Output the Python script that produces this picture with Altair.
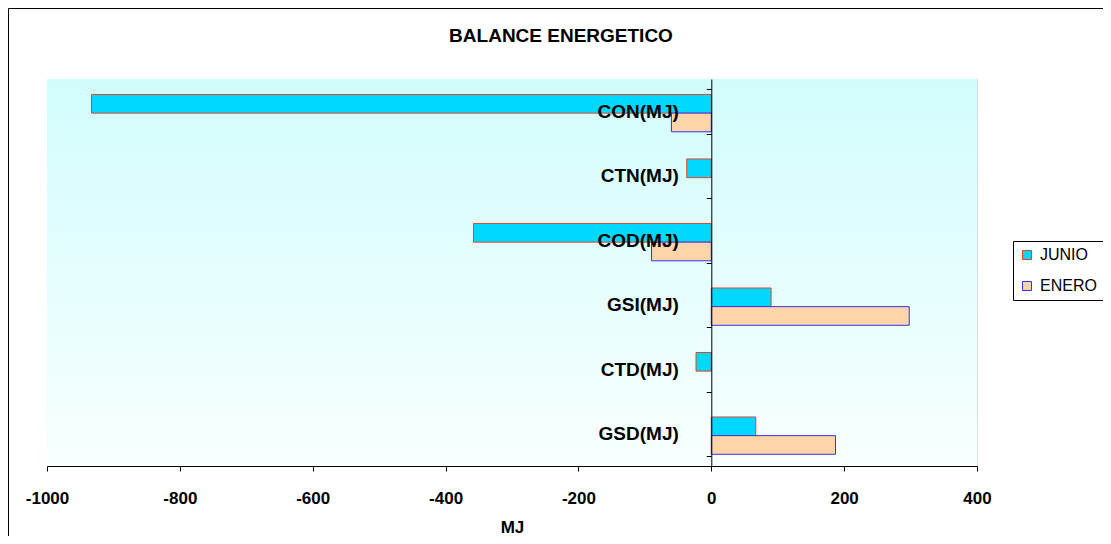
import altair as alt
import pandas as pd

categories = ["CON(MJ)", "CTN(MJ)", "COD(MJ)", "GSI(MJ)", "CTD(MJ)", "GSD(MJ)"]
series = ["JUNIO", "ENERO"]
junio = [-933, -37, -358, 90, -23, 67]
enero = [-60, 0, -90, 298, 0, 187]
x_ticks = [-1000, -800, -600, -400, -200, 0, 200, 400]
title_text = "BALANCE ENERGETICO"

rows = []
for c, j, e in zip(categories, junio, enero):
    rows.append({"cat": c, "serie": "JUNIO", "val": j})
    rows.append({"cat": c, "serie": "ENERO", "val": e})
df = pd.DataFrame(rows)

W, H = 930, 387
FONT = "Liberation Sans"

xscale = alt.Scale(domain=[-1000, 400], nice=False, zero=False)

grad = alt.LinearGradient(
    gradient="linear", x1=0, x2=0, y1=0, y2=1,
    stops=[alt.GradientStop(color="#D2FCFC", offset=0),
           alt.GradientStop(color="#F8FFFF", offset=1)],
)

bg = alt.Chart(pd.DataFrame({"a": [0]})).mark_rect(fill=grad).encode(
    x=alt.datum(-1000, scale=xscale),
    x2=alt.datum(400),
    y=alt.value(0),
    y2=alt.value(H),
)

frame = alt.Chart(pd.DataFrame({"a": [0]})).mark_rect(
    fill=None, stroke="black", strokeWidth=1
).encode(
    x=alt.value(-38.5), x2=alt.value(1200), y=alt.value(-70.5), y2=alt.value(1000)
)

title = alt.Chart(pd.DataFrame({"t": [title_text]})).mark_text(
    font=FONT, fontSize=19, fontWeight="bold", color="black",
    align="center", baseline="alphabetic"
).encode(text="t:N", x=alt.value(514), y=alt.value(-37.5))

legend_kw = dict(title=None, orient="none", legendX=966, legendY=162,
                 symbolType="square", symbolSize=81, symbolStrokeWidth=1,
                 labelFont=FONT, labelFontSize=16, labelColor="black",
                 labelOffset=5, padding=6, rowPadding=15,
                 strokeColor="black", fillColor="white")

bars = alt.Chart(df).transform_filter("datum.val != 0").mark_bar(strokeWidth=1).encode(
    x=alt.X("val:Q", scale=xscale,
            axis=alt.Axis(values=x_ticks, title="MJ", grid=False,
                          labelExpr="datum.value + ''",
                          domainColor="black", tickColor="black", tickSize=5,
                          labelFontSize=17, labelFontWeight="bold", labelColor="black",
                          labelFont=FONT, labelPadding=19, labelFlush=False,
                          titleFont=FONT, titleFontSize=17, titleFontWeight="bold",
                          titleColor="black", titlePadding=13)),
    y=alt.Y("cat:N", sort=categories,
            scale=alt.Scale(paddingInner=0.3, paddingOuter=0.15),
            axis=alt.Axis(title=None, offset=-664.3, domainColor="black",
                          tickColor="black", tickSize=5, tickBand="extent",
                          labelFontSize=19, labelFontWeight="bold", labelColor="black",
                          labelFont=FONT, labelPadding=28, zindex=1, grid=False)),
    yOffset=alt.YOffset("serie:N", sort=series,
                        scale=alt.Scale(paddingInner=0, paddingOuter=0.21, align=0.74)),
    fill=alt.Fill("serie:N", sort=series,
                  scale=alt.Scale(domain=series, range=["#00D8FF", "#FFD4A8"]),
                  legend=alt.Legend(**legend_kw)),
    stroke=alt.Stroke("serie:N", sort=series,
                      scale=alt.Scale(domain=series, range=["#E4432A", "#3333EE"]),
                      legend=alt.Legend(**legend_kw)),
)

chart = alt.layer(bg, bars, frame, title).properties(
    width=W, height=H,
    autosize=alt.AutoSizeParams(type="none"),
    padding={"left": 39, "top": 71, "right": 126, "bottom": 70},
).configure_view(stroke=None).configure(background="white")

chart.save("out.html", embed_options={"renderer": "svg", "actions": False})
